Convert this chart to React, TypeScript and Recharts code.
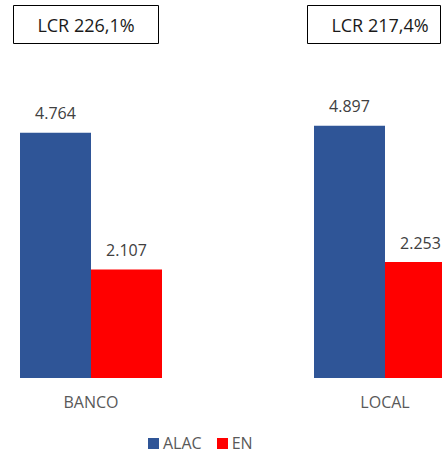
import { Bar, BarChart, LabelList, Legend, XAxis, YAxis } from 'recharts';

const categories = ['BANCO', 'LOCAL'];
const alacValues = [4764, 4897];
const enValues = [2107, 2253];
const lcrValues = [226.1, 217.4];

const BLUE = '#2F5597';
const RED = '#FF0000';
const FONT = '"Open Sans", "Noto Sans", sans-serif';

// chart is shifted left so the clipped layout of the original is kept
const SHIFT = 56;
const PAGE_W = 442;

const data = categories.map((name, i) => ({
  name,
  ALAC: alacValues[i],
  EN: enValues[i],
  LCR: lcrValues[i],
}));

const fmtThousands = (v: number) => String(v).replace(/\B(?=(\d{3})+(?!\d))/g, '.');
const fmtPct = (v: number) => `LCR ${v.toFixed(1).replace('.', ',')}%`;

function LcrBox(props: any) {
  const { x, value } = props;
  const left = Math.round(x - 7) + 0.5;
  const maxRight = PAGE_W - 2 + SHIFT + 0.5;
  const right = Math.min(left + 145, maxRight);
  const top = 5.5;
  const bottom = 43.5;
  return (
    <g>
      <path
        d={`M${left},${top}H${right}V${bottom}H${left}Z`}
        fill="#fff"
        stroke="#000"
        strokeWidth={1}
      />
      <text x={x + 66} y={32} textAnchor="middle" fontSize={18} fontFamily={FONT} fill="#1a1a1a">
        {fmtPct(value)}
      </text>
    </g>
  );
}

function LegendContent(props: any) {
  const items = props.payload || [];
  return (
    <div style={{ display: 'flex', alignItems: 'center', fontFamily: FONT, fontSize: 16, color: '#595959' }}>
      {items.map((it: any, i: number) => (
        <div key={it.value} style={{ display: 'flex', alignItems: 'center', marginRight: i === 0 ? 15 : 0 }}>
          <span style={{ display: 'inline-block', width: 11, height: 11, background: it.color, marginRight: 4 }} />
          <span>{it.value}</span>
        </div>
      ))}
    </div>
  );
}

export default function App() {
  return (
    <div style={{ width: PAGE_W, height: 454, overflow: 'hidden', position: 'absolute', left: 0, top: 0, background: '#fff' }}>
      <div style={{ position: 'absolute', left: -SHIFT, top: 0 }}>
        <BarChart
          width={588}
          height={454}
          data={data}
          margin={{ top: 69, right: 0, bottom: 46, left: 0 }}
          barCategoryGap={76}
          barGap={0}
        >
          <XAxis
            dataKey="name"
            height={30}
            axisLine={false}
            tickLine={false}
            tickSize={0}
            tickMargin={19}
            tick={{ fill: '#595959', fontSize: 16, fontFamily: FONT }}
          />
          <YAxis hide domain={[0, 6000]} />
          <Legend
            verticalAlign="middle"
            align="center"
            content={<LegendContent />}
            wrapperStyle={{ top: 432, left: 148 + SHIFT, width: 'auto' }}
          />
          <Bar dataKey="ALAC" fill={BLUE} isAnimationActive={false}>
            <LabelList
              dataKey="ALAC"
              position="top"
              offset={14}
              formatter={(v: any) => fmtThousands(v)}
              style={{ fill: '#404040', fontSize: 16, fontFamily: FONT }}
            />
            <LabelList dataKey="LCR" content={<LcrBox />} />
          </Bar>
          <Bar dataKey="EN" fill={RED} isAnimationActive={false}>
            <LabelList
              dataKey="EN"
              position="top"
              offset={13}
              formatter={(v: any) => fmtThousands(v)}
              style={{ fill: '#404040', fontSize: 16, fontFamily: FONT }}
            />
          </Bar>
        </BarChart>
      </div>
    </div>
  );
}
